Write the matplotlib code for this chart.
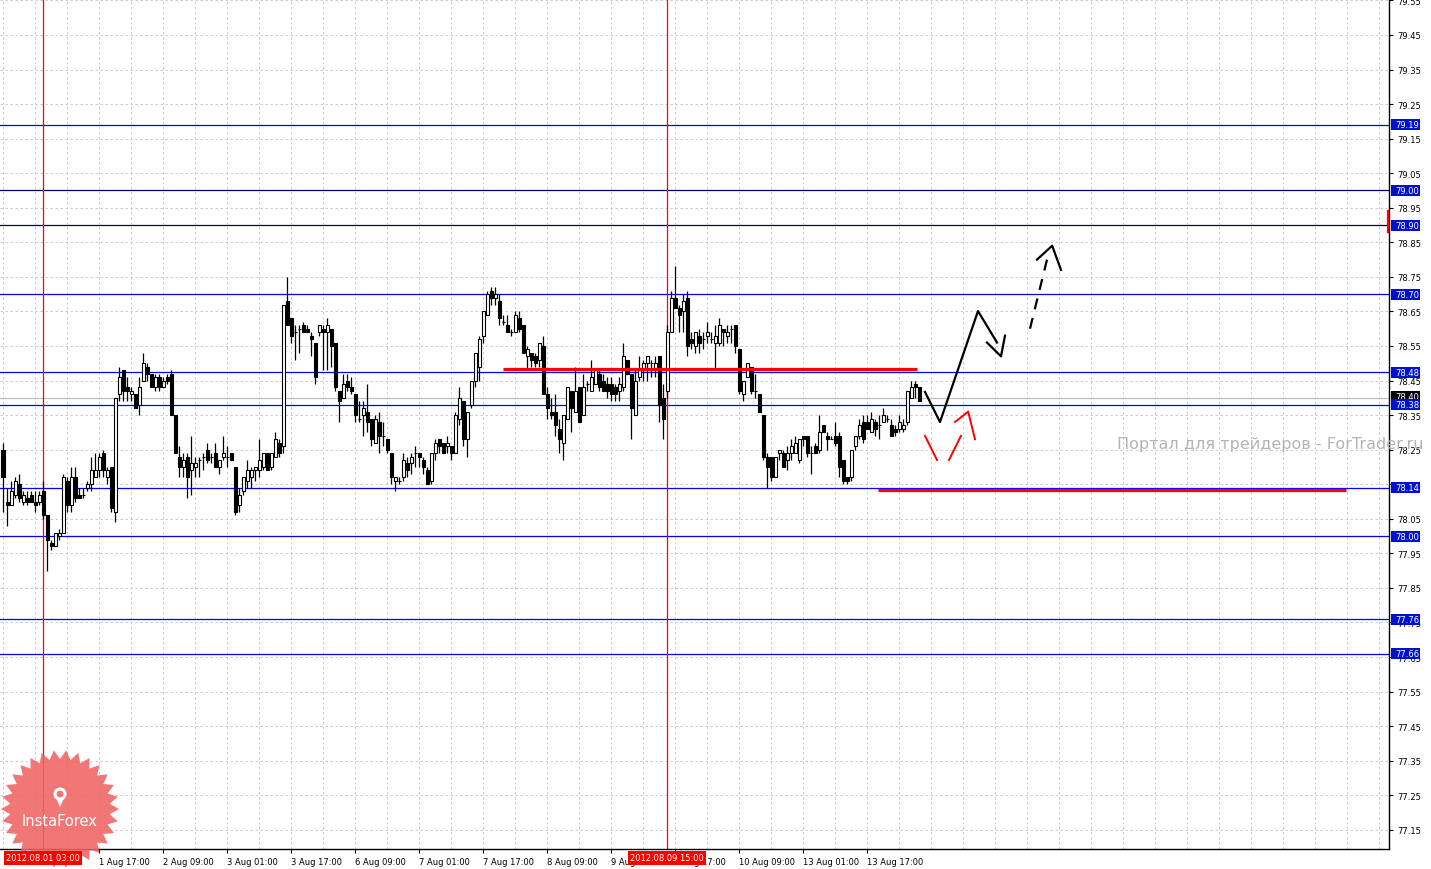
import numpy as np
import matplotlib
matplotlib.use('Agg')
import matplotlib.pyplot as plt
from matplotlib.patches import Polygon, Circle, Rectangle

# hourly candles, 31 Jul 17:00 .. 14 Aug 06:00 (bar index = position)
opens = [78.25, 78.10, 78.09, 78.12, 78.15, 78.10, 78.11, 78.12, 78.10, 78.10,
         78.13, 78.06, 77.98, 77.97, 78.00, 78.01, 78.16, 78.09, 78.17, 78.12,
         78.12, 78.14, 78.15, 78.17, 78.19, 78.24, 78.17, 78.20, 78.07, 78.41,
         78.48, 78.43, 78.41, 78.41, 78.38, 78.45, 78.49, 78.47, 78.43, 78.46,
         78.43, 78.46, 78.47, 78.35, 78.23, 78.20, 78.23, 78.19, 78.20, 78.22,
         78.23, 78.25, 78.23, 78.24, 78.20, 78.23, 78.23, 78.24, 78.20, 78.09,
         78.13, 78.16, 78.17, 78.19, 78.19, 78.20, 78.24, 78.20, 78.23, 78.27,
         78.26, 78.68, 78.63, 78.59, 78.60, 78.61, 78.60, 78.58, 78.56, 78.59,
         78.60, 78.59, 78.60, 78.56, 78.42, 78.40, 78.45, 78.43, 78.41, 78.34,
         78.35, 78.36, 78.34, 78.27, 78.33, 78.29, 78.28, 78.24, 78.16, 78.16,
         78.17, 78.21, 78.21, 78.24, 78.24, 78.22, 78.19, 78.16, 78.24, 78.28,
         78.27, 78.26, 78.26, 78.24, 78.34, 78.39, 78.28, 78.38, 78.45, 78.49,
         78.58, 78.64, 78.71, 78.69, 78.68, 78.62, 78.61, 78.59, 78.59, 78.63,
         78.61, 78.52, 78.53, 78.52, 78.51, 78.55, 78.41, 78.36, 78.36, 78.31,
         78.27, 78.34, 78.42, 78.36, 78.43, 78.35, 78.44, 78.42, 78.44, 78.47,
         78.45, 78.44, 78.44, 78.43, 78.42, 78.43, 78.51, 78.47, 78.35, 78.46,
         78.48, 78.50, 78.50, 78.48, 78.52, 78.40, 78.42, 78.59, 78.69, 78.66,
         78.65, 78.69, 78.57, 78.55, 78.58, 78.57, 78.58, 78.57, 78.56, 78.56,
         78.60, 78.58, 78.60, 78.61, 78.54, 78.41, 78.46, 78.49, 78.42, 78.41,
         78.35, 78.23, 78.23, 78.17, 78.24, 78.24, 78.22, 78.24, 78.24, 78.22,
         78.29, 78.29, 78.24, 78.26, 78.25, 78.32, 78.29, 78.28, 78.29, 78.29,
         78.22, 78.17, 78.17, 78.26, 78.29, 78.33, 78.33, 78.30, 78.33, 78.32,
         78.33, 78.34, 78.32, 78.31, 78.31, 78.31, 78.33, 78.40, 78.44, 78.43]
highs = [78.27, 78.14, 78.16, 78.17, 78.18, 78.13, 78.13, 78.13, 78.13, 78.13,
         78.16, 78.06, 77.99, 78.01, 78.02, 78.18, 78.17, 78.20, 78.20, 78.14,
         78.14, 78.16, 78.23, 78.24, 78.24, 78.25, 78.20, 78.20, 78.40, 78.49,
         78.48, 78.46, 78.43, 78.41, 78.46, 78.53, 78.50, 78.47, 78.47, 78.47,
         78.46, 78.47, 78.48, 78.35, 78.26, 78.24, 78.24, 78.29, 78.23, 78.23,
         78.24, 78.27, 78.24, 78.27, 78.22, 78.29, 78.26, 78.24, 78.20, 78.14,
         78.17, 78.22, 78.20, 78.20, 78.28, 78.24, 78.24, 78.24, 78.30, 78.28,
         78.67, 78.75, 78.63, 78.61, 78.61, 78.62, 78.61, 78.59, 78.56, 78.61,
         78.61, 78.63, 78.60, 78.56, 78.42, 78.47, 78.47, 78.46, 78.41, 78.39,
         78.39, 78.44, 78.34, 78.35, 78.36, 78.33, 78.28, 78.24, 78.17, 78.17,
         78.24, 78.23, 78.24, 78.26, 78.24, 78.23, 78.20, 78.24, 78.28, 78.28,
         78.27, 78.29, 78.26, 78.36, 78.43, 78.39, 78.36, 78.45, 78.53, 78.58,
         78.65, 78.71, 78.72, 78.72, 78.70, 78.64, 78.64, 78.60, 78.65, 78.65,
         78.61, 78.55, 78.53, 78.53, 78.56, 78.58, 78.43, 78.40, 78.41, 78.34,
         78.35, 78.43, 78.42, 78.49, 78.43, 78.47, 78.45, 78.51, 78.48, 78.48,
         78.47, 78.46, 78.46, 78.44, 78.46, 78.56, 78.51, 78.47, 78.48, 78.52,
         78.51, 78.52, 78.51, 78.52, 78.52, 78.44, 78.61, 78.71, 78.78, 78.67,
         78.70, 78.71, 78.59, 78.59, 78.60, 78.59, 78.62, 78.59, 78.61, 78.63,
         78.60, 78.61, 78.61, 78.61, 78.54, 78.45, 78.50, 78.49, 78.47, 78.41,
         78.35, 78.24, 78.23, 78.23, 78.25, 78.25, 78.26, 78.28, 78.29, 78.28,
         78.29, 78.29, 78.26, 78.27, 78.35, 78.32, 78.30, 78.29, 78.33, 78.30,
         78.22, 78.17, 78.25, 78.29, 78.34, 78.35, 78.35, 78.36, 78.34, 78.35,
         78.37, 78.35, 78.34, 78.32, 78.35, 78.34, 78.42, 78.45, 78.45, 78.43]
lows = [78.07, 78.03, 78.09, 78.11, 78.10, 78.09, 78.09, 78.10, 78.07, 78.09,
        78.05, 77.90, 77.96, 77.97, 77.99, 78.01, 78.07, 78.07, 78.10, 78.11,
        78.11, 78.13, 78.13, 78.17, 78.17, 78.17, 78.15, 78.07, 78.04, 78.39,
        78.39, 78.39, 78.39, 78.37, 78.35, 78.45, 78.45, 78.43, 78.42, 78.42,
        78.43, 78.44, 78.35, 78.24, 78.17, 78.17, 78.11, 78.12, 78.17, 78.17,
        78.19, 78.21, 78.21, 78.20, 78.18, 78.22, 78.20, 78.22, 78.06, 78.07,
        78.12, 78.14, 78.14, 78.16, 78.17, 78.19, 78.19, 78.19, 78.23, 78.23,
        78.24, 78.61, 78.56, 78.51, 78.53, 78.59, 78.59, 78.52, 78.44, 78.58,
        78.48, 78.48, 78.49, 78.42, 78.33, 78.40, 78.42, 78.41, 78.33, 78.33,
        78.29, 78.30, 78.26, 78.27, 78.24, 78.26, 78.24, 78.15, 78.13, 78.15,
        78.16, 78.17, 78.18, 78.20, 78.20, 78.18, 78.15, 78.15, 78.22, 78.24,
        78.24, 78.24, 78.22, 78.24, 78.32, 78.26, 78.23, 78.37, 78.43, 78.45,
        78.56, 78.64, 78.67, 78.67, 78.61, 78.61, 78.59, 78.58, 78.59, 78.59,
        78.53, 78.48, 78.49, 78.49, 78.49, 78.41, 78.34, 78.34, 78.29, 78.24,
        78.22, 78.34, 78.30, 78.36, 78.33, 78.35, 78.42, 78.42, 78.44, 78.42,
        78.42, 78.40, 78.39, 78.39, 78.39, 78.42, 78.47, 78.28, 78.35, 78.45,
        78.45, 78.45, 78.46, 78.46, 78.33, 78.28, 78.40, 78.59, 78.66, 78.59,
        78.59, 78.52, 78.54, 78.53, 78.53, 78.54, 78.56, 78.56, 78.48, 78.55,
        78.55, 78.56, 78.56, 78.53, 78.41, 78.39, 78.46, 78.41, 78.40, 78.36,
        78.22, 78.14, 78.16, 78.17, 78.22, 78.20, 78.19, 78.22, 78.24, 78.21,
        78.26, 78.23, 78.18, 78.24, 78.24, 78.30, 78.25, 78.28, 78.26, 78.17,
        78.15, 78.15, 78.16, 78.25, 78.28, 78.27, 78.31, 78.30, 78.29, 78.28,
        78.33, 78.33, 78.29, 78.29, 78.30, 78.30, 78.32, 78.40, 78.40, 78.39]
closes = [78.17, 78.09, 78.13, 78.16, 78.11, 78.12, 78.10, 78.10, 78.09, 78.12,
          78.06, 77.99, 77.97, 78.01, 78.01, 78.17, 78.09, 78.17, 78.11, 78.11,
          78.12, 78.15, 78.19, 78.19, 78.23, 78.19, 78.19, 78.08, 78.40, 78.46,
          78.42, 78.42, 78.42, 78.37, 78.43, 78.50, 78.47, 78.43, 78.46, 78.43,
          78.45, 78.45, 78.35, 78.24, 78.20, 78.22, 78.17, 78.21, 78.21, 78.22,
          78.23, 78.22, 78.23, 78.20, 78.22, 78.24, 78.23, 78.22, 78.07, 78.12,
          78.17, 78.19, 78.19, 78.20, 78.22, 78.24, 78.19, 78.24, 78.28, 78.24,
          78.67, 78.61, 78.58, 78.59, 78.60, 78.59, 78.59, 78.57, 78.46, 78.61,
          78.59, 78.61, 78.55, 78.43, 78.39, 78.44, 78.43, 78.42, 78.35, 78.34,
          78.37, 78.33, 78.28, 78.34, 78.29, 78.29, 78.25, 78.17, 78.17, 78.16,
          78.22, 78.19, 78.23, 78.24, 78.23, 78.20, 78.15, 78.24, 78.27, 78.26,
          78.24, 78.27, 78.24, 78.35, 78.40, 78.28, 78.36, 78.45, 78.53, 78.57,
          78.65, 78.70, 78.69, 78.70, 78.63, 78.62, 78.59, 78.59, 78.64, 78.60,
          78.53, 78.54, 78.51, 78.50, 78.56, 78.41, 78.37, 78.35, 78.32, 78.28,
          78.35, 78.43, 78.37, 78.42, 78.33, 78.43, 78.44, 78.46, 78.48, 78.43,
          78.42, 78.42, 78.41, 78.41, 78.44, 78.52, 78.47, 78.37, 78.45, 78.48,
          78.50, 78.52, 78.50, 78.50, 78.38, 78.34, 78.59, 78.69, 78.66, 78.64,
          78.68, 78.55, 78.56, 78.59, 78.56, 78.57, 78.59, 78.57, 78.58, 78.61,
          78.59, 78.59, 78.60, 78.55, 78.42, 78.45, 78.50, 78.42, 78.42, 78.36,
          78.23, 78.20, 78.17, 78.23, 78.25, 78.20, 78.24, 78.26, 78.27, 78.28,
          78.28, 78.24, 78.24, 78.24, 78.30, 78.30, 78.28, 78.28, 78.27, 78.20,
          78.16, 78.16, 78.25, 78.29, 78.32, 78.28, 78.31, 78.34, 78.31, 78.32,
          78.35, 78.34, 78.29, 78.30, 78.33, 78.32, 78.42, 78.43, 78.43, 78.39]

date_ticks = [24, 40, 56, 72, 88, 104, 120, 136, 152, 168, 184, 200, 216]
date_labels = ['1 Aug 17:00', '2 Aug 09:00', '3 Aug 01:00', '3 Aug 17:00', '6 Aug 09:00',
               '7 Aug 01:00', '7 Aug 17:00', '8 Aug 09:00', '9 Aug 01:00', '9 Aug 17:00',
               '10 Aug 09:00', '13 Aug 01:00', '13 Aug 17:00']
cursor_bars = [10, 166]
cursor_labels = ['2012.08.01 03:00', '2012.08.09 15:00']

levels = [79.19, 79.00, 78.90, 78.70, 78.474, 78.38, 78.14, 78.00, 77.76, 77.66]
level_labels = ['79.19', '79.00', '78.90', '78.70', '78.48', '78.38', '78.14', '78.00', '77.76', '77.66']
level_colors = ['#0000ff', '#000060', '#000060', '#0000ff', '#0000ff',
                '#0000ff', '#0000ff', '#0000ff', '#0000ff', '#0000ff']
bid = 78.40

# drawn analysis (bar index, price)
red_lines = [([125, 228.5], [78.482, 78.482]), ([218.75, 335.75], [78.133, 78.133])]
main_path = ([230.5, 234.25, 243.75, 248.5], [78.417, 78.33, 78.651, 78.56])
main_head = ([246.0, 249.5, 250.5], [78.56, 78.52, 78.58])
dash_path = ([256.75, 261.0], [78.60, 78.80])
dash_head = ([258.5, 262.3, 264.5], [78.80, 78.84, 78.77])
red_path1 = ([230.5, 233.5], [78.29, 78.22])
red_path2 = ([236.5, 239.5], [78.22, 78.29])
red_head = ([238.0, 241.3, 243.0], [78.33, 78.36, 78.28])

W, H = 1431, 870
fig = plt.figure(figsize=(W / 100, H / 100), dpi=100)
fig.patch.set_facecolor('white')
ax = fig.add_axes([0, 20 / H, 1389 / W, 850 / H])

x = np.arange(len(closes))
o = np.array(opens); c = np.array(closes)
ax.set_xlim(-0.75, 346.5)
ax.set_ylim(77.0945, 79.554)

yt = [round(77.15 + 0.1 * i, 2) for i in range(25)]
grid_kw = dict(color='#c4c4c4', lw=0.6, ls=(0, (3, 3)), zorder=0)
for p in yt:
    ax.axhline(p, **grid_kw)
for k in range(0, 347, 8):
    ax.axvline(k, **grid_kw)

for lv, col in zip(levels, level_colors):
    ax.axhline(lv, color=col, lw=0.9, zorder=1)
ax.axhline(bid, color='#c0c0c0', lw=0.9, zorder=1)
for k in cursor_bars:
    ax.axvline(k, color='#ff0000', lw=0.9, zorder=1)

ax.vlines(x, lows, highs, color='black', lw=0.9, zorder=3)
up = c >= o
ax.bar(x, np.abs(c - o), bottom=np.minimum(o, c), width=0.75,
       color=np.where(up, 'white', 'black'), edgecolor='black', lw=0.8, zorder=4)

for xs, ys in red_lines:
    ax.plot(xs, ys, color='#ff0000', lw=2.3, zorder=5, solid_capstyle='butt')
ax.plot(*main_path, color='black', lw=1.6, zorder=5)
ax.plot(*main_head, color='black', lw=1.6, zorder=5)
ax.plot(*dash_path, color='black', lw=1.6, ls=(0, (5, 4)), zorder=5)
ax.plot(*dash_head, color='black', lw=1.6, zorder=5)
for pth in (red_path1, red_path2, red_head):
    ax.plot(*pth, color='#ff0000', lw=1.4, zorder=5)

# axes look
for s in ('left', 'top'):
    ax.spines[s].set_visible(False)
ax.spines['right'].set_linewidth(1)
ax.spines['bottom'].set_linewidth(1)
ax.yaxis.tick_right()
ax.set_yticks(yt)
ax.set_yticklabels(['%.2f' % v for v in yt])
ax.tick_params(axis='y', length=3, width=0.8, labelsize=6, pad=3)
ax.set_xticks(date_ticks)
ax.set_xticklabels(date_labels, ha='left')
ax.tick_params(axis='x', length=3, width=0.8, labelsize=6, pad=3)

ytrans = ax.get_yaxis_transform()
bw, bh = 29 / 1389, 11 / 345.6
ax.add_patch(Rectangle((1.0015, bid - 0.012), bw, bh, transform=ytrans, fc='black',
                       ec='none', clip_on=False, zorder=6))
ax.text(1.0045, bid + 0.004, '%.2f' % bid, transform=ytrans, ha='left', va='center',
        fontsize=6, color='white', zorder=6.5, clip_on=False)
for lv, lab in zip(levels, level_labels):
    ax.add_patch(Rectangle((1.0015, lv - bh / 2), bw, bh, transform=ytrans, fc='#0010d0',
                           ec='none', clip_on=False, zorder=7))
    ax.text(1.0045, lv, lab, transform=ytrans, ha='left', va='center',
            fontsize=6, color='white', zorder=7.5, clip_on=False)
ax.plot([0.999, 0.999], [78.88, 78.94], transform=ytrans, color='red', lw=1.6, clip_on=False, zorder=8)

# watermark
fig.text(1270 / W, 1 - 445 / H, 'Портал для трейдеров - ForTrader.ru', color='#b4b4b4',
         fontsize=11.5, ha='center', va='center')

# logo
cx, cy, n = 0.60, 0.60, 30
ang = np.linspace(0, 2 * np.pi, 2 * n, endpoint=False)
rad = np.where(np.arange(2 * n) % 2 == 0, 0.59, 0.50)
star = Polygon(np.c_[cx + rad * np.cos(ang), cy + rad * np.sin(ang)], closed=True,
               transform=fig.dpi_scale_trans, fc='#f06464', ec='none', alpha=0.88, zorder=2)
fig.add_artist(star)
fig.add_artist(Circle((cx, cy + 0.15), 0.05, transform=fig.dpi_scale_trans,
                      fc='none', ec='white', lw=2.2, zorder=3))
fig.add_artist(Polygon([[cx - 0.035, cy + 0.1], [cx + 0.035, cy + 0.1], [cx, cy + 0.02]],
                       transform=fig.dpi_scale_trans, fc='white', ec='none', zorder=3))
fig.text(60 / W, 1 - 822 / H, 'InstaForex', color='white', fontsize=10.5,
         ha='center', va='center', zorder=3)

# cursor date boxes
for k, lab in zip(cursor_bars, cursor_labels):
    xf = (3 + 4 * k) / W
    fig.text(xf, 1 - 859 / H, lab, color='white', fontsize=6, ha='center', va='center',
             zorder=4, bbox=dict(boxstyle='square,pad=0.25', fc='#ff0000', ec='none'))

fig.savefig('out.png', dpi=100)
